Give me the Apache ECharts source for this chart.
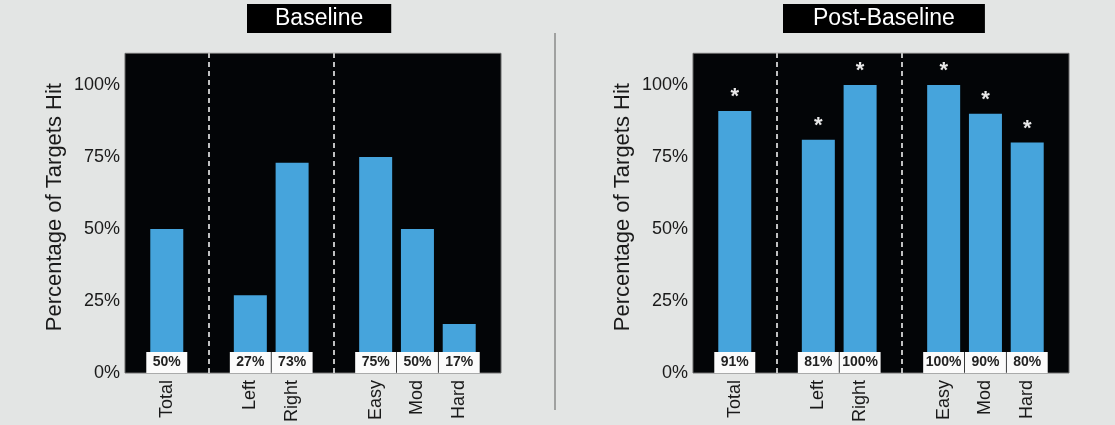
<!DOCTYPE html>
<html>
<head>
<meta charset="utf-8">
<script src="https://cdn.jsdelivr.net/npm/echarts@6/dist/echarts.min.js"></script>
<style>
html,body{margin:0;padding:0;background:#e3e5e4;}
#c{width:1115px;height:425px;}
</style>
</head>
<body>
<div id="c"></div>
<script>
// ---- data ----
const panelTitles = ['Baseline', 'Post-Baseline'];
const groups = [['Total'], ['Left', 'Right'], ['Easy', 'Mod', 'Hard']];
const baselineValues = [50, 27, 73, 75, 50, 17];
const postValues = [91, 81, 100, 100, 90, 80];
const baselineStars = ['', '', '', '', '', ''];
const postStars = ['*', '*', '*', '*', '*', '*'];
const yTicks = [0, 25, 50, 75, 100];
const yAxisName = 'Percentage of Targets Hit';

// ---- build slotted category axis (empty slots separate groups) ----
const slots = [''];
const gapIdx = [];
groups.forEach((g, gi) => {
  if (gi > 0) { gapIdx.push(slots.length); slots.push(''); }
  g.forEach(c => slots.push(c));
});
slots.push('');
function pad(arr) {
  const out = []; let k = 0;
  slots.forEach(s => { out.push(s === '' ? null : arr[k++]); });
  return out;
}

const FONT = "'Liberation Sans', Arial, sans-serif";
const BLUE = '#46a4dc';
const gridsPx = [{left: 125, width: 376}, {left: 693, width: 376}];
const yMax = 111;

const option = {
  backgroundColor: '#e3e5e4',
  animation: false,
  textStyle: {fontFamily: FONT},
  title: [
    {text: panelTitles[0], left: 247, top: 4, backgroundColor: '#000', padding: [3, 28, 3, 28],
     textStyle: {color: '#fff', fontSize: 23, fontWeight: 'normal', fontFamily: FONT}},
    {text: panelTitles[1], left: 783, top: 4, backgroundColor: '#000', padding: [3, 30, 3, 30],
     textStyle: {color: '#fff', fontSize: 23, fontWeight: 'normal', fontFamily: FONT}}
  ],
  graphic: [
    {type: 'line', shape: {x1: 555, y1: 33, x2: 555, y2: 410}, style: {stroke: '#8a8a8a', lineWidth: 1.5}}
  ],
  grid: gridsPx.map(g => ({left: g.left, width: g.width, top: 373 - yMax * 2.88, height: yMax * 2.88,
    show: true, backgroundColor: '#030507', borderColor: '#6a6a6a', borderWidth: 1})),
  xAxis: [0, 1].map(i => ({
    type: 'category', gridIndex: i, data: slots, boundaryGap: false,
    axisLine: {show: false}, axisTick: {show: false}, splitLine: {show: false},
    axisLabel: {interval: 0, rotate: 90, fontSize: 18, color: '#1a1a1a', margin: 7, fontFamily: FONT}
  })),
  yAxis: [0, 1].map(i => ({
    type: 'value', gridIndex: i, min: yTicks[0], max: yMax, interval: yTicks[1] - yTicks[0],
    name: yAxisName, nameLocation: 'middle', nameRotate: 90, nameGap: 59,
    nameTextStyle: {fontSize: 22, color: '#1a1a1a', fontFamily: FONT, padding: [0, 0, 0, 12]},
    axisLine: {show: false}, axisTick: {show: false}, splitLine: {show: false},
    axisLabel: {fontSize: 18, color: '#1a1a1a', margin: 5, fontFamily: FONT, showMaxLabel: false,
      formatter: v => (yTicks.indexOf(v) >= 0 ? v + '%' : '')}
  })),
  series: []
};

[[baselineValues, baselineStars], [postValues, postStars]].forEach(([vals, stars], i) => {
  const starPad = pad(stars);
  option.series.push({
    type: 'bar', xAxisIndex: i, yAxisIndex: i, data: pad(vals), barWidth: 33,
    itemStyle: {color: BLUE},
    label: {show: true, position: 'insideBottom', distance: 0, formatter: p => p.value + '%',
      backgroundColor: '#fbfbfb', width: 41, height: 21, lineHeight: 21, align: 'center',
      color: '#222', fontSize: 14, fontWeight: 'bold', fontFamily: FONT},
    markLine: {silent: true, symbol: 'none', label: {show: false},
      lineStyle: {color: '#ffffff', type: [5, 4], width: 1.5},
      data: gapIdx.map(g => ({xAxis: g}))}
  });
  option.series.push({
    type: 'bar', xAxisIndex: i, yAxisIndex: i, data: pad(vals), barWidth: 33, barGap: '-100%',
    itemStyle: {color: 'rgba(0,0,0,0)'},
    label: {show: true, position: 'top', distance: 3, formatter: p => starPad[p.dataIndex] || '',
      color: '#e8e8e8', fontSize: 22, fontWeight: 'bold', fontFamily: FONT}
  });
});

const chart = echarts.init(document.getElementById('c'));
chart.setOption(option);
</script>
</body>
</html>
